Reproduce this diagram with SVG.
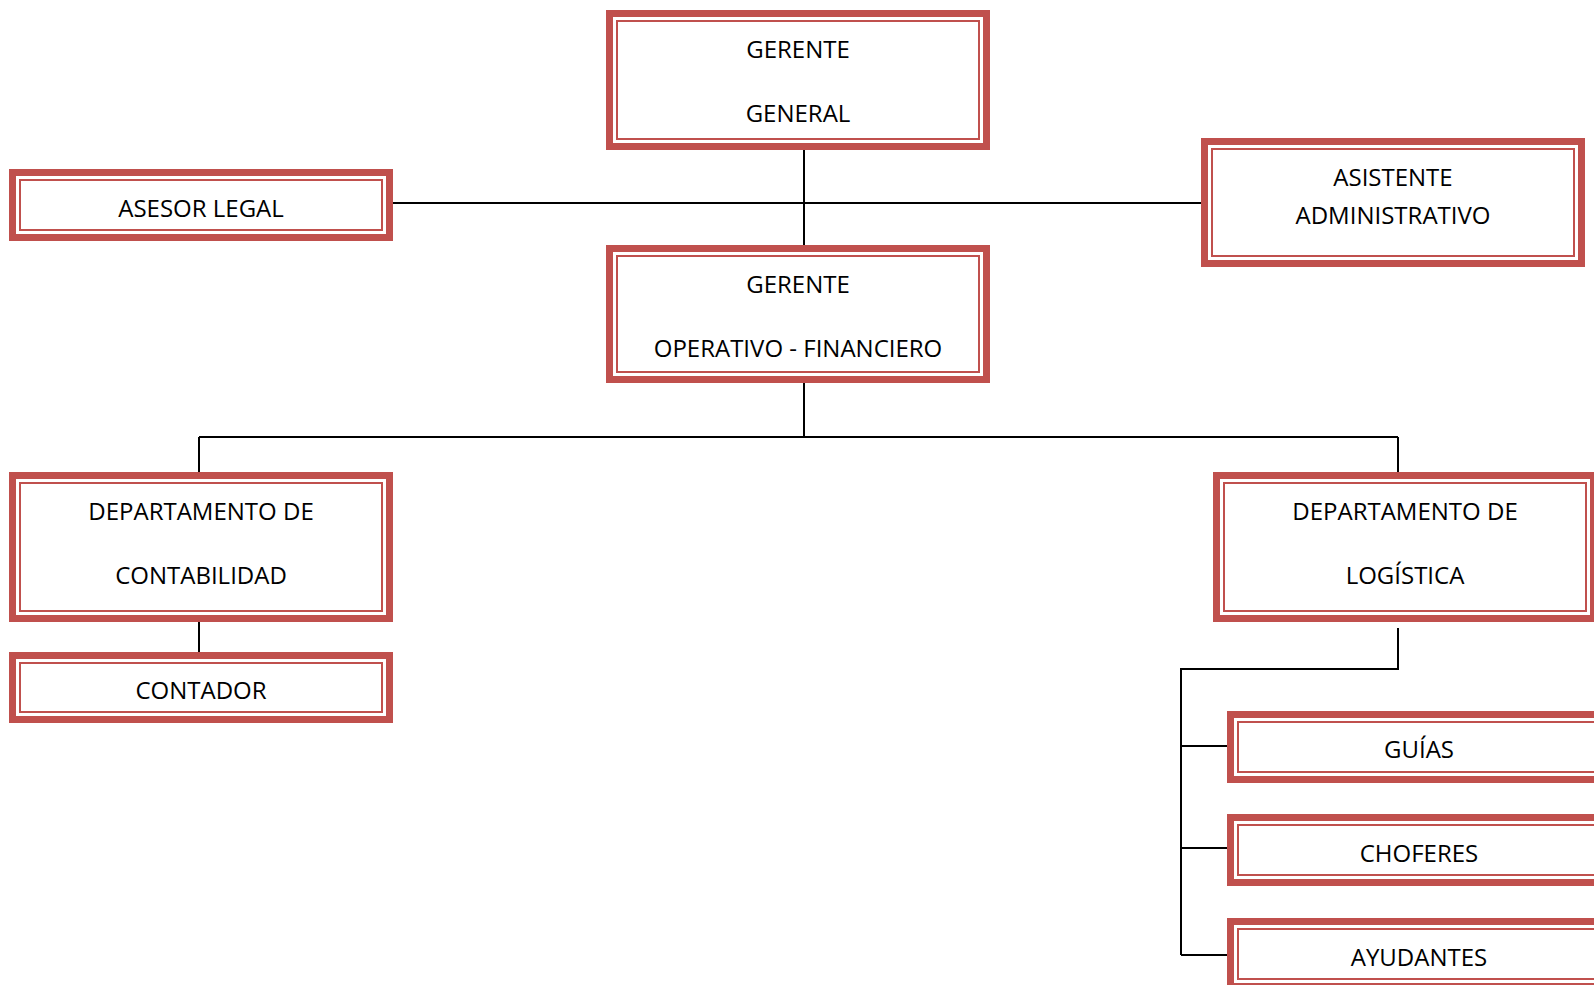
<svg xmlns="http://www.w3.org/2000/svg" width="1594" height="985" viewBox="0 0 1594 985">
<style>
.outer{fill:#fff;stroke:#C0504D;stroke-width:7}
.inner{fill:none;stroke:#C0504D;stroke-width:2}
.t{font-family:"Open Sans","Liberation Sans",sans-serif;font-size:24px;fill:#000;text-anchor:middle}
.c{fill:none;stroke:#000;stroke-width:2}
</style>
<rect width="1594" height="985" fill="#fff"/>
<g id="connectors">
<path class="c" d="M804 150V245"/>
<path class="c" d="M393 203H1201"/>
<path class="c" d="M804 383V437"/>
<path class="c" d="M199 437H1398"/>
<path class="c" d="M199 437V472"/>
<path class="c" d="M1398 437V472"/>
<path class="c" d="M199 622V652"/>
<path class="c" d="M1398 628V669H1181V955"/>
<path class="c" d="M1181 746H1233"/>
<path class="c" d="M1181 848H1233"/>
<path class="c" d="M1181 955H1233"/>
</g>
<g id="gerente-general">
<rect class="outer" x="609.5" y="13.5" width="377" height="133"/>
<rect class="inner" x="617" y="21" width="362" height="118"/>
<text class="t" x="798" y="57.5">GERENTE</text>
<text class="t" x="798" y="121.5">GENERAL</text>
</g>
<g id="asesor-legal">
<rect class="outer" x="12.5" y="172.5" width="377" height="65"/>
<rect class="inner" x="20" y="180" width="362" height="50"/>
<text class="t" x="201" y="216.5">ASESOR LEGAL</text>
</g>
<g id="asistente-administrativo">
<rect class="outer" x="1204.5" y="141.5" width="377" height="122"/>
<rect class="inner" x="1212" y="149" width="362" height="107"/>
<text class="t" x="1393" y="185.5">ASISTENTE</text>
<text class="t" x="1393" y="224">ADMINISTRATIVO</text>
</g>
<g id="gerente-operativo">
<rect class="outer" x="609.5" y="248.5" width="377" height="131"/>
<rect class="inner" x="617" y="256" width="362" height="116"/>
<text class="t" x="798" y="293">GERENTE</text>
<text class="t" x="798" y="357">OPERATIVO - FINANCIERO</text>
</g>
<g id="depto-contabilidad">
<rect class="outer" x="12.5" y="475.5" width="377" height="143"/>
<rect class="inner" x="20" y="483" width="362" height="128"/>
<text class="t" x="201" y="520">DEPARTAMENTO DE</text>
<text class="t" x="201" y="584">CONTABILIDAD</text>
</g>
<g id="contador">
<rect class="outer" x="12.5" y="655.5" width="377" height="64"/>
<rect class="inner" x="20" y="663" width="362" height="49"/>
<text class="t" x="201" y="699">CONTADOR</text>
</g>
<g id="depto-logistica">
<rect class="outer" x="1216.5" y="475.5" width="377" height="143"/>
<rect class="inner" x="1224" y="483" width="362" height="128"/>
<text class="t" x="1405" y="520">DEPARTAMENTO DE</text>
<text class="t" x="1405" y="584">LOGÍSTICA</text>
</g>
<g id="guias">
<rect class="outer" x="1230.5" y="714.5" width="377" height="65"/>
<rect class="inner" x="1238" y="722" width="362" height="50"/>
<text class="t" x="1419" y="758">GUÍAS</text>
</g>
<g id="choferes">
<rect class="outer" x="1230.5" y="817.5" width="377" height="65"/>
<rect class="inner" x="1238" y="825" width="362" height="50"/>
<text class="t" x="1419" y="862">CHOFERES</text>
</g>
<g id="ayudantes">
<rect class="outer" x="1230.5" y="921.5" width="377" height="65"/>
<rect class="inner" x="1238" y="929" width="362" height="50"/>
<text class="t" x="1419" y="966">AYUDANTES</text>
</g>
</svg>
